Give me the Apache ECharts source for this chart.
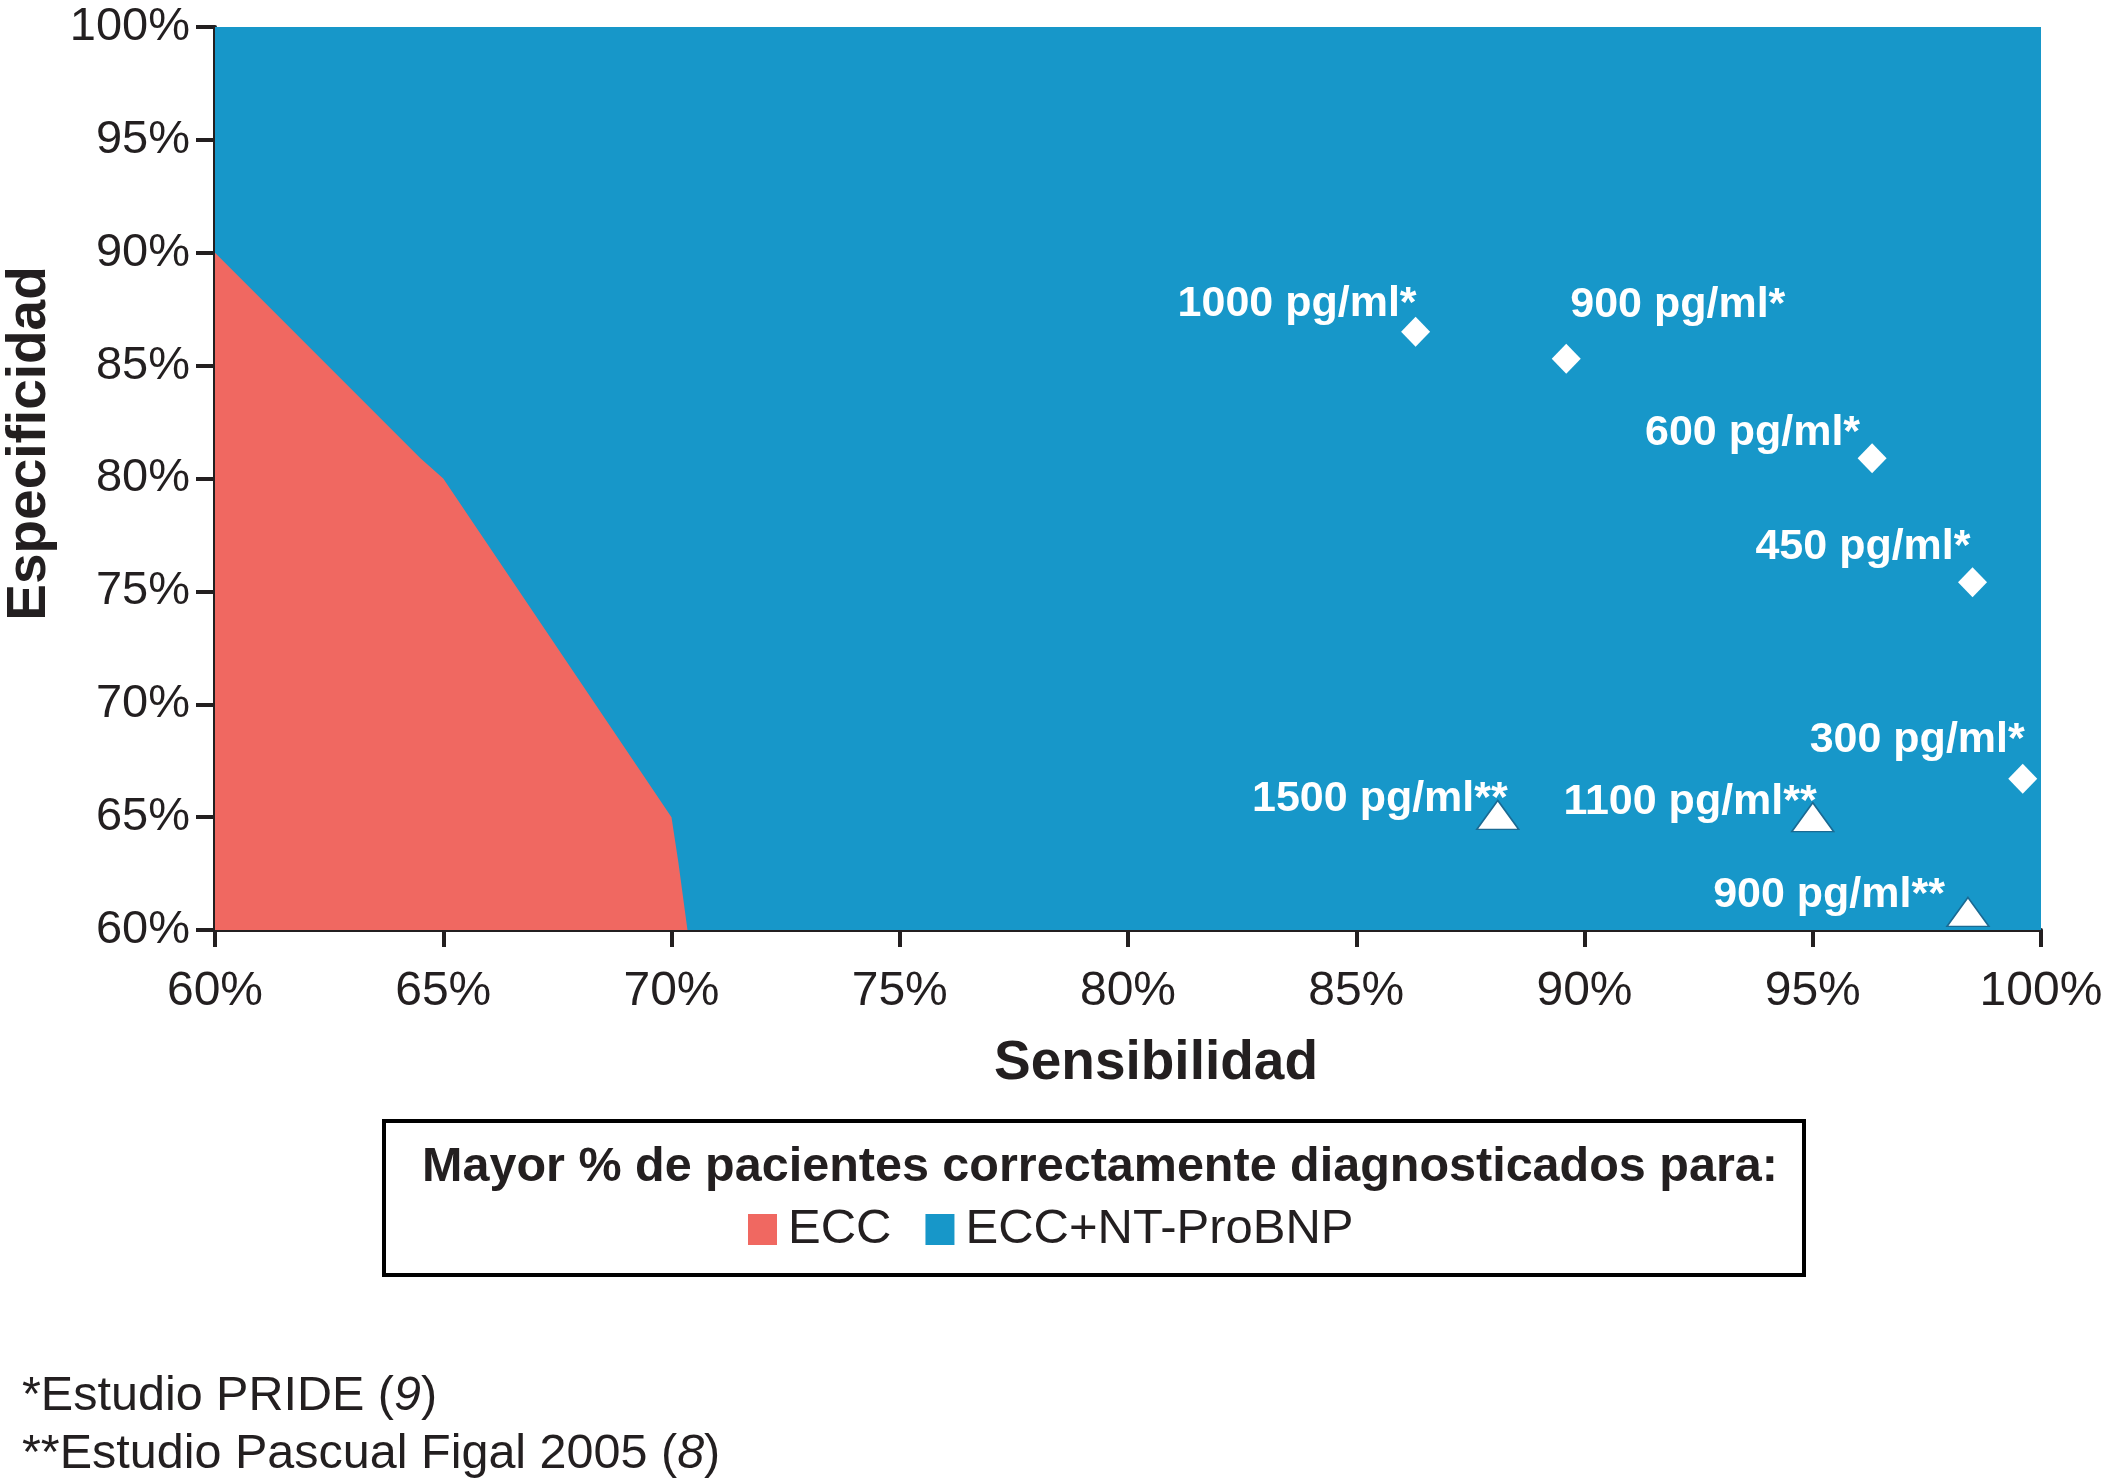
<!DOCTYPE html>
<html><head><meta charset="utf-8">
<script src="https://cdn.jsdelivr.net/npm/echarts@6/dist/echarts.min.js"></script>
<style>html,body{margin:0;padding:0;background:#fff;overflow:hidden;}#c{width:2108px;height:1479px;}</style>
</head><body><div id="c"></div>
<script>
// ---- data ----
const xTicks = [60, 65, 70, 75, 80, 85, 90, 95, 100];
const yTicks = [60, 65, 70, 75, 80, 85, 90, 95, 100];
const eccBoundary = [[60, 90], [64.5, 80.9], [65, 80], [67, 74], [70, 65], [70.15, 63], [70.35, 60]];
const combinedRegion = [[60, 100], [100, 100]];
const prideNames = ['1000 pg/ml*', '900 pg/ml*', '600 pg/ml*', '450 pg/ml*', '300 pg/ml*'];
const prideSens = [86.3, 89.6, 96.3, 98.5, 99.6];
const prideSpec = [86.5, 85.3, 80.9, 75.4, 66.7];
const figalNames = ['1500 pg/ml**', '1100 pg/ml**', '900 pg/ml**'];
const figalSens = [88.1, 95.0, 98.4];
const figalSpec = [65.1, 65.0, 60.8];

// label placement (style only)
const prideLabelPlace = [['right', 1, -28], ['left', 4, -54], ['right', -12, -25], ['right', -2, -35], ['right', 2, -39]];
const figalLabelPlace = [['right', 10, -16], ['right', 4, -15], ['right', -23, -17]];

const FONT = "'Liberation Sans', Arial, Helvetica, sans-serif";
const DARK = '#231f20';
const BLUE = '#1797c9';
const RED = '#f06861';

function pts(names, xs, ys, place) {
  return names.map((n, i) => ({
    name: n, value: [xs[i], ys[i]],
    label: { align: place[i][0], offset: [place[i][1], place[i][2]] }
  }));
}

const chart = echarts.init(document.getElementById('c'), null, { renderer: 'canvas' });
chart.setOption({
  animation: false,
  backgroundColor: '#fff',
  grid: { left: 215, right: 67, top: 27, bottom: 549, containLabel: false, outerBoundsMode: 'none' },
  xAxis: {
    type: 'value', min: 60, max: 100, interval: 5,
    name: 'Sensibilidad', nameLocation: 'middle', nameGap: 106,
    nameTextStyle: { fontFamily: FONT, fontSize: 55, fontWeight: 'bold', color: DARK, padding: [0, 0, 0, 56] },
    axisLine: { show: true, lineStyle: { color: DARK, width: 4 } },
    axisTick: { show: true, length: 17, lineStyle: { color: DARK, width: 4 } },
    axisLabel: { fontFamily: FONT, fontSize: 48, color: DARK, margin: 38,
      formatter: v => v + '%' },
    splitLine: { show: false }
  },
  yAxis: {
    type: 'value', min: 60, max: 100, interval: 5,
    name: 'Especificidad', nameLocation: 'middle', nameGap: 158,
    nameTextStyle: { fontFamily: FONT, fontSize: 55, fontWeight: 'bold', color: DARK, padding: [0, 0, 0, 70] },
    axisLine: { show: true, lineStyle: { color: DARK, width: 4 } },
    axisTick: { show: true, length: 19, lineStyle: { color: DARK, width: 4 } },
    axisLabel: { fontFamily: FONT, fontSize: 47, color: DARK, margin: 25,
      formatter: v => v + '%' },
    splitLine: { show: false }
  },
  legend: {
    data: ['ECC', 'ECC+NT-ProBNP'],
    left: 743, top: 1200,
    icon: 'rect', itemWidth: 29, itemHeight: 31, itemGap: 34,
    textStyle: { fontFamily: FONT, fontSize: 49, color: DARK, padding: [0, 0, 0, 6] },
    selectedMode: false
  },
  graphic: [
    { type: 'rect', shape: { x: 384, y: 1121, width: 1420, height: 154 },
      style: { fill: 'none', stroke: '#000', lineWidth: 4 }, z: 10 },
    { type: 'text', x: 1100, y: 1168,
      style: { text: 'Mayor % de pacientes correctamente diagnosticados para:', fontFamily: FONT,
        fontSize: 48.5, fontWeight: 'bold', fill: DARK, align: 'center', verticalAlign: 'middle' } },
    { type: 'text', x: 22, y: 1397,
      style: { text: '*Estudio PRIDE ({i|9})', fontFamily: FONT, fontSize: 48.5, fill: DARK,
        verticalAlign: 'middle',
        rich: { i: { fontStyle: 'italic', fontFamily: FONT, fontSize: 48.5, fill: DARK } } } },
    { type: 'text', x: 22, y: 1455,
      style: { text: '**Estudio Pascual Figal 2005 ({i|8})', fontFamily: FONT, fontSize: 48.5, fill: DARK,
        verticalAlign: 'middle',
        rich: { i: { fontStyle: 'italic', fontFamily: FONT, fontSize: 48.5, fill: DARK } } } }
  ],
  series: [
    { name: 'ECC+NT-ProBNP', type: 'line', data: combinedRegion, color: BLUE,
      showSymbol: false, lineStyle: { width: 0 }, areaStyle: { color: BLUE, opacity: 1, origin: 'start' },
      z: 1, silent: true },
    { name: 'ECC', type: 'line', data: eccBoundary, color: RED,
      showSymbol: false, lineStyle: { width: 0 }, areaStyle: { color: RED, opacity: 1, origin: 'start' },
      z: 2, silent: true },
    { name: 'PRIDE', type: 'scatter', symbol: 'diamond', symbolSize: [29, 30],
      itemStyle: { color: '#fff', opacity: 1 }, z: 5,
      label: { show: true, position: 'inside', formatter: '{b}', verticalAlign: 'middle',
        fontFamily: FONT, fontSize: 43, fontWeight: 'bold', color: '#fff', opacity: 1 },
      data: pts(prideNames, prideSens, prideSpec, prideLabelPlace) },
    { name: 'Pascual Figal', type: 'scatter', symbol: 'triangle', symbolSize: [42, 29],
      itemStyle: { color: '#fff', borderColor: '#1a6a93', borderWidth: 1.5, opacity: 1 }, z: 5,
      label: { show: true, position: 'inside', formatter: '{b}', verticalAlign: 'middle',
        fontFamily: FONT, fontSize: 43, fontWeight: 'bold', color: '#fff', opacity: 1 },
      data: pts(figalNames, figalSens, figalSpec, figalLabelPlace) }
  ]
});
</script></body></html>
